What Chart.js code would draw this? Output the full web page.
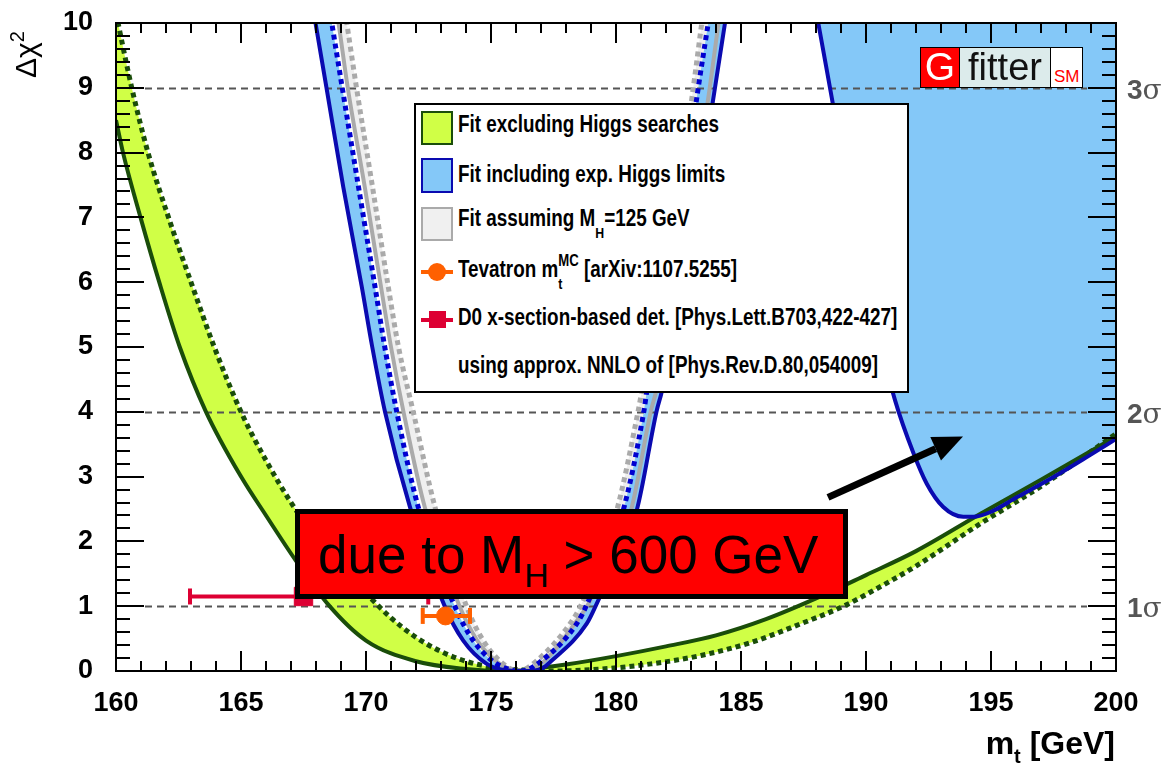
<!DOCTYPE html>
<html>
<head>
<meta charset="utf-8">
<script src="https://cdn.jsdelivr.net/npm/chart.js@4.4.1/dist/chart.umd.min.js"></script>
<style>
  body { margin: 0; background: #fff; }
  #wrap { position: relative; width: 1163px; height: 772px; overflow: hidden; font-family: "Liberation Sans", Arial, sans-serif; }
  #c { position: absolute; left: 0; top: 0; }
  .abs { position: absolute; white-space: nowrap; }
  .leg { font-size: 23px; line-height: 23px; font-weight: bold; transform: scaleX(0.82); transform-origin: 0 0; color: #000; }
  .sub { font-size: 15px; position: relative; top: 12px; line-height: 0; }
  .sup { font-size: 16px; position: relative; top: -11px; line-height: 0; }
  .sig { font-size: 28px; line-height: 28px; font-weight: bold; color: #555; }
  .sig span { font-weight: normal; font-family: "DejaVu Serif", serif; }
</style>
</head>
<body>
<div id="wrap">
  <canvas id="c" width="1163" height="772"></canvas>

  <!-- axis titles -->
  <div class="abs" style="left:10px;top:78px;font-size:30px;line-height:32px;transform:rotate(-90deg);transform-origin:0 0;">&Delta;&chi;<span style="font-size:20px;position:relative;top:-12px;line-height:0">2</span></div>
  <div class="abs" style="right:48px;top:727px;font-size:32px;line-height:32px;font-weight:bold;">m<span style="font-size:20px;position:relative;top:9px;line-height:0">t</span> [GeV]</div>

  <!-- sigma labels -->
  <div class="abs sig" style="left:1127px;top:76px;">3<span>&sigma;</span></div>
  <div class="abs sig" style="left:1127px;top:400px;">2<span>&sigma;</span></div>
  <div class="abs sig" style="left:1127px;top:594px;">1<span>&sigma;</span></div>

  <!-- Gfitter logo -->
  <div class="abs" style="left:920px;top:47px;width:163px;height:41px;border:1px solid #000;box-sizing:border-box;display:flex;">
    <div style="width:38px;background:#f00;color:#fff;font-size:39px;line-height:38px;text-align:center;border-right:1px solid #000;">G</div>
    <div style="width:90px;background:#dcebeb;color:#111;font-size:38px;line-height:38px;text-align:center;border-right:1px solid #000;">fitter</div>
    <div style="flex:1;background:#fff;color:#f00;position:relative;"><span style="position:absolute;left:3px;bottom:2px;font-size:17px;line-height:17px;">SM</span></div>
  </div>

  <!-- legend -->
  <div class="abs" style="left:414px;top:103px;width:495px;height:290px;border:2px solid #000;box-sizing:border-box;background:#fff;"></div>
  <div class="abs" style="left:421px;top:111px;width:32px;height:34px;box-sizing:border-box;border:2px solid #1a4d0a;background:#d0ff46;"></div>
  <div class="abs" style="left:421px;top:158px;width:32px;height:35px;box-sizing:border-box;border:2px solid #0a0ab0;background:#84c8f8;"></div>
  <div class="abs" style="left:421px;top:207px;width:32px;height:34px;box-sizing:border-box;border:2px solid #aaa;background:#f0f0f0;"></div>
  <div class="abs" style="left:421px;top:270px;width:32px;height:4px;background:#ff6000;"></div>
  <div class="abs" style="left:428px;top:263px;width:18px;height:18px;border-radius:50%;background:#ff6000;"></div>
  <div class="abs" style="left:421px;top:318px;width:32px;height:4px;background:#dd0033;"></div>
  <div class="abs" style="left:429px;top:311px;width:17px;height:17px;background:#dd0033;"></div>

  <div class="abs leg" style="left:458px;top:113px;">Fit excluding Higgs searches</div>
  <div class="abs leg" style="left:458px;top:163px;">Fit including exp. Higgs limits</div>
  <div class="abs leg" style="left:458px;top:207px;">Fit assuming M<span class="sub">H</span>=125 GeV</div>
  <div class="abs leg" style="left:458px;top:258px;">Tevatron m<span class="sub">t</span><span class="sup" style="margin-left:-5px">MC</span> [arXiv:1107.5255]</div>
  <div class="abs leg" style="left:458px;top:306px;">D0 x-section-based det. [Phys.Lett.B703,422-427]</div>
  <div class="abs leg" style="left:458px;top:354px;">using approx. NNLO of [Phys.Rev.D.80,054009]</div>

  <!-- annotation box -->
  <div class="abs" style="left:295px;top:509px;width:553px;height:90px;box-sizing:border-box;border:5px solid #000;background:#f00;">
    <div class="abs" style="left:18px;top:14px;font-size:53px;line-height:53px;color:#000;">due to M<span style="font-size:34px;position:relative;top:14px;line-height:0">H</span> &gt; 600 GeV</div>
  </div>
</div>

<script>
// axis ticks
const xTickValues = [160, 165, 170, 175, 180, 185, 190, 195, 200];
const yTickValues = [0, 1, 2, 3, 4, 5, 6, 7, 8, 9, 10];
const sigmaLevels = [1, 4, 9];

// fit excluding Higgs searches (green band)
const greenSolidX = [160.0, 160.28, 160.98, 161.73, 162.55, 163.6, 165.0, 166.0, 167.2, 168.5, 170.0, 172.0, 174.0, 175.5, 177.0, 178.0, 180.0, 182.0, 184.0, 186.0, 188.0, 190.0, 192.0, 194.6, 197.0, 200.0];
const greenSolidY = [8.5, 8.0, 7.0, 6.0, 5.0, 4.0, 3.0, 2.4, 1.7, 1.02, 0.47, 0.15, 0.03, 0.0, 0.05, 0.1, 0.23, 0.38, 0.55, 0.8, 1.12, 1.48, 1.85, 2.43, 2.95, 3.62];
const greenDotX = [160.0, 160.63, 161.28, 162.1, 163.0, 163.93, 165.0, 166.0, 167.0, 168.0, 169.0, 170.0, 171.0, 172.0, 173.0, 174.0, 175.0, 176.0, 177.4, 179.4, 181.4, 183.4, 185.4, 187.4, 189.1, 190.0, 192.0, 194.6, 197.0, 200.0];
const greenDotY = [10.15, 9.0, 8.0, 7.0, 6.0, 5.0, 4.0, 3.25, 2.6, 2.05, 1.6, 1.2, 0.82, 0.52, 0.3, 0.15, 0.06, 0.02, 0.0, 0.03, 0.11, 0.24, 0.44, 0.73, 1.0, 1.18, 1.62, 2.28, 2.85, 3.66];

// fit including exp. Higgs limits (blue band)
const blueSolidX = [167.5, 167.98, 168.42, 169.09, 169.83, 170.25, 170.76, 171.76, 173.16, 173.89, 174.83, 175.45, 176.3, 177.0, 177.4, 178.83, 179.23, 180.83, 181.63, 181.83, 182.42, 182.88, 183.34, 183.96, 184.36, 185.2];
const blueSolidY = [11.1, 10.0, 9.0, 7.47, 5.93, 5.0, 4.0, 2.53, 0.99, 0.47, 0.11, 0.02, 0.0, 0.03, 0.15, 0.73, 1.04, 2.48, 4.02, 4.31, 5.5, 6.5, 7.5, 9.0, 10.0, 12.1];
const blueDotX = [167.5, 168.63, 169.05, 169.7, 170.36, 170.75, 171.23, 172.09, 173.56, 174.29, 175.23, 176.2, 177.03, 178.43, 178.85, 180.29, 181.12, 181.23, 181.88, 182.33, 182.74, 183.29, 183.69, 185.2];
const blueDotY = [12.7, 10.0, 9.0, 7.47, 5.93, 5.0, 4.0, 2.53, 0.99, 0.47, 0.11, 0.0, 0.16, 0.73, 1.04, 2.48, 4.02, 4.31, 5.5, 6.5, 7.5, 9.0, 10.0, 13.8];
const blueHighX = [187.6, 188.09, 188.56, 189.5, 190.3, 191.16, 191.9, 192.43, 193.09, 193.89, 194.3, 194.96, 196.03, 197.49, 198.83, 200.0];
const blueHighY = [11.05, 10.0, 9.0, 7.0, 5.5, 4.18, 3.36, 2.89, 2.53, 2.38, 2.38, 2.45, 2.68, 2.99, 3.3, 3.58];

// fit assuming MH = 125 GeV (grey band)
const greySolidX = [167.5, 168.9, 169.27, 169.95, 170.6, 171.0, 171.5, 172.35, 173.75, 174.45, 175.35, 176.2, 177.1, 178.35, 178.9, 180.6, 181.4, 181.6, 182.2, 182.7, 183.15, 183.75, 184.1, 185.2];
const greySolidY = [13.3, 10.0, 9.0, 7.47, 5.93, 5.0, 4.0, 2.53, 0.99, 0.47, 0.11, 0.0, 0.14, 0.73, 1.04, 2.48, 4.02, 4.31, 5.5, 6.5, 7.5, 9.0, 10.0, 13.0];
const greyDotX = [167.5, 169.23, 169.62, 170.26, 170.89, 171.3, 171.89, 172.76, 174.03, 174.69, 175.49, 176.1, 176.83, 178.16, 178.63, 180.03, 180.89, 181.03, 181.6, 182.1, 182.55, 183.09, 183.43, 185.2];
const greyDotY = [14.3, 10.0, 9.0, 7.47, 5.93, 5.0, 4.0, 2.53, 0.99, 0.47, 0.11, 0.0, 0.16, 0.73, 1.04, 2.48, 4.02, 4.31, 5.5, 6.5, 7.5, 9.0, 10.0, 15.1];

// measurements
const tevatron = { x: 173.18, y: 0.85, lo: 172.27, hi: 174.16 };
const d0 = { x: 167.5, y: 1.15, lo: 162.96, hi: 172.49 };

// arrow pointing to the high-mass region
const arrowFrom = [188.48, 2.68];
const arrowTo = [193.88, 3.62];

function pts(xs, ys) {
  return xs.map((x, i) => ({ x: x, y: ys[i] }));
}

function curve(xs, ys, color, dashed, fill, bg) {
  return {
    data: pts(xs, ys),
    borderColor: color,
    borderWidth: dashed ? 5 : 4,
    borderDash: dashed ? [5, 4] : [],
    pointRadius: 0,
    cubicInterpolationMode: 'monotone',
    fill: fill,
    backgroundColor: bg || 'transparent'
  };
}

function errBar(m, color) {
  return {
    data: [{ x: m.lo, y: m.y }, { x: m.hi, y: m.y }],
    borderColor: color,
    borderWidth: 4,
    pointStyle: 'line',
    pointRotation: 90,
    pointRadius: 8,
    pointBorderWidth: 4,
    pointBorderColor: color,
    fill: false
  };
}

const decorations = {
  id: 'decorations',
  beforeDatasetsDraw(chart) {
    const { ctx, chartArea: a, scales: { y } } = chart;
    ctx.save();
    ctx.strokeStyle = '#555';
    ctx.lineWidth = 2;
    ctx.setLineDash([7, 5]);
    sigmaLevels.forEach(v => {
      const py = Math.round(y.getPixelForValue(v)) + 0.5;
      ctx.beginPath();
      ctx.moveTo(a.left + 29, py);
      ctx.lineTo(a.right - 29, py);
      ctx.stroke();
    });
    ctx.restore();
  },
  afterDatasetsDraw(chart) {
    const { ctx, chartArea: a, scales: { x, y } } = chart;
    ctx.save();
    ctx.strokeStyle = '#000';
    ctx.lineWidth = 2;
    ctx.beginPath();
    // x ticks, bottom and top
    for (let v = 160; v <= 200; v++) {
      const px = Math.round(x.getPixelForValue(v));
      const len = v % 5 === 0 ? 20 : 10;
      ctx.moveTo(px, a.bottom); ctx.lineTo(px, a.bottom - len);
      ctx.moveTo(px, a.top); ctx.lineTo(px, a.top + len);
    }
    // y ticks, left and right
    for (let k = 0; k <= 50; k++) {
      const py = Math.round(y.getPixelForValue(k / 5));
      const len = k % 5 === 0 ? 28 : 14;
      ctx.moveTo(a.left, py); ctx.lineTo(a.left + len, py);
      ctx.moveTo(a.right, py); ctx.lineTo(a.right - len, py);
    }
    ctx.stroke();
    ctx.strokeRect(a.left, a.top, a.right - a.left, a.bottom - a.top);

    // arrow
    const x0 = x.getPixelForValue(arrowFrom[0]), y0 = y.getPixelForValue(arrowFrom[1]);
    const x1 = x.getPixelForValue(arrowTo[0]), y1 = y.getPixelForValue(arrowTo[1]);
    const ang = Math.atan2(y1 - y0, x1 - x0);
    const hl = 30, hw = 13;
    const bx = x1 - hl * Math.cos(ang), by = y1 - hl * Math.sin(ang);
    ctx.lineWidth = 7;
    ctx.beginPath();
    ctx.moveTo(x0, y0);
    ctx.lineTo(bx, by);
    ctx.stroke();
    ctx.fillStyle = '#000';
    ctx.beginPath();
    ctx.moveTo(x1, y1);
    ctx.lineTo(bx + hw * Math.sin(ang), by - hw * Math.cos(ang));
    ctx.lineTo(bx - hw * Math.sin(ang), by + hw * Math.cos(ang));
    ctx.closePath();
    ctx.fill();
    ctx.restore();
  }
};

const tickFont = { family: 'Liberation Sans', size: 27, weight: 'bold' };

new Chart(document.getElementById('c'), {
  type: 'line',
  data: {
    datasets: [
      { data: [{ x: tevatron.x, y: tevatron.y }], pointStyle: 'circle', pointRadius: 9, pointBackgroundColor: '#ff6000', pointBorderColor: '#ff6000', showLine: false },
      errBar(tevatron, '#ff6000'),
      { data: [{ x: d0.x, y: d0.y }], pointStyle: 'rect', pointRadius: 13, pointBackgroundColor: '#dd0033', pointBorderColor: '#dd0033', showLine: false },
      errBar(d0, '#dd0033'),
      curve(blueSolidX, blueSolidY, '#0a0ab0', false, '+1', '#84c8f8'),
      curve(blueDotX, blueDotY, '#0000d0', true, false),
      curve(blueHighX, blueHighY, '#0a0ab0', false, 'end', '#84c8f8'),
      curve(greySolidX, greySolidY, '#aaaaaa', false, '+1', '#efefef'),
      curve(greyDotX, greyDotY, '#aaaaaa', true, false),
      curve(greenSolidX, greenSolidY, '#1a4d0a', false, '+1', '#d0ff46'),
      curve(greenDotX, greenDotY, '#1a4d0a', true, false)
    ]
  },
  options: {
    responsive: false,
    animation: false,
    events: [],
    layout: { padding: { left: 0, right: 47, top: 23, bottom: 0 } },
    plugins: {
      legend: { display: false },
      tooltip: { enabled: false },
      filler: { drawTime: 'beforeDatasetsDraw' }
    },
    scales: {
      x: {
        type: 'linear',
        min: 160,
        max: 200,
        grid: { display: false },
        border: { display: false },
        afterBuildTicks: s => { s.ticks = xTickValues.map(v => ({ value: v })); },
        afterFit: s => { s.height = 101; s.paddingLeft = 0; s.paddingRight = 0; },
        ticks: { font: tickFont, color: '#000', padding: 8, maxRotation: 0 }
      },
      y: {
        type: 'linear',
        min: 0,
        max: 10,
        grid: { display: false },
        border: { display: false },
        afterBuildTicks: s => { s.ticks = yTickValues.map(v => ({ value: v })); },
        afterFit: s => { s.width = 116; s.paddingTop = 0; s.paddingBottom = 0; },
        ticks: { font: tickFont, color: '#000', padding: 15 }
      }
    }
  },
  plugins: [decorations]
});
</script>
</body>
</html>
